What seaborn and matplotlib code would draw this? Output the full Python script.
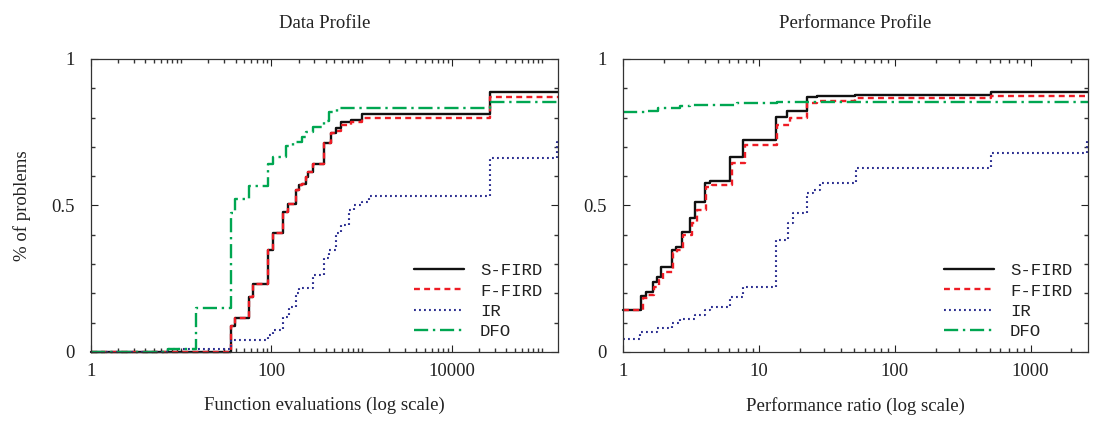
import matplotlib
matplotlib.use("Agg")
import matplotlib.pyplot as plt
import matplotlib.ticker as mticker
import seaborn as sns
import pandas as pd
import numpy as np

# ---- data profile (function evaluations) ----
dp_sfird_x = [1, 35.8, 39.7, 56.1, 63.2, 91, 105, 136, 152, 187, 204, 218, 242, 252, 286, 385, 456, 519, 589, 759, 1020, 26700, 150000]
dp_sfird_y = [0, 0.089, 0.117, 0.189, 0.231, 0.348, 0.407, 0.477, 0.504, 0.553, 0.570, 0.575, 0.598, 0.615, 0.640, 0.712, 0.747, 0.763, 0.786, 0.792, 0.812, 0.886, 0.886]
dp_ffird_x = [1, 35.8, 39.7, 56.1, 63.2, 91, 105, 136, 152, 187, 204, 218, 242, 252, 286, 385, 456, 519, 589, 759, 1020, 26700, 150000]
dp_ffird_y = [0, 0.089, 0.117, 0.189, 0.231, 0.348, 0.407, 0.477, 0.504, 0.553, 0.570, 0.575, 0.598, 0.615, 0.640, 0.712, 0.747, 0.755, 0.775, 0.786, 0.797, 0.869, 0.869]
dp_ir_x = [1, 7.1, 35.8, 91, 103, 136, 158, 187, 204, 286, 385, 437, 519, 589, 728, 826, 1020, 1210, 26700, 145000, 150000]
dp_ir_y = [0, 0.01, 0.041, 0.058, 0.075, 0.12, 0.155, 0.2, 0.217, 0.263, 0.32, 0.348, 0.405, 0.433, 0.485, 0.502, 0.513, 0.532, 0.661, 0.718, 0.718]
dp_dfo_x = [1, 7.1, 14.7, 35.8, 39.6, 56.1, 91, 103, 145, 172, 218, 242, 286, 385, 437, 540, 26700, 150000]
dp_dfo_y = [0, 0.01, 0.151, 0.473, 0.521, 0.567, 0.642, 0.667, 0.703, 0.718, 0.735, 0.752, 0.767, 0.79, 0.82, 0.834, 0.852, 0.852]

# ---- performance profile (performance ratio) ----
pp_sfird_x = [1, 1.36, 1.49, 1.65, 1.79, 1.90, 2.28, 2.45, 2.70, 3.11, 3.38, 4.01, 4.36, 6.12, 7.67, 13.3, 16.2, 22.7, 26.6, 50.8, 514, 2650]
pp_sfird_y = [0.143, 0.191, 0.206, 0.24, 0.257, 0.289, 0.348, 0.36, 0.411, 0.456, 0.513, 0.576, 0.585, 0.667, 0.724, 0.803, 0.824, 0.869, 0.874, 0.877, 0.886, 0.886]
pp_ffird_x = [1, 1.41, 1.53, 1.69, 1.84, 1.96, 2.32, 2.48, 2.78, 3.20, 3.48, 4.12, 4.49, 6.30, 7.89, 13.5, 16.9, 22.7, 26.6, 50.8, 514, 2650]
pp_ffird_y = [0.143, 0.183, 0.195, 0.223, 0.246, 0.274, 0.337, 0.348, 0.4, 0.439, 0.485, 0.564, 0.57, 0.644, 0.706, 0.775, 0.797, 0.851, 0.858, 0.866, 0.874, 0.874]
pp_ir_x = [1, 1.33, 1.77, 2.28, 2.62, 3.38, 4.01, 4.36, 6.12, 7.67, 13.3, 16.4, 17.9, 22.7, 25.1, 28.4, 52.3, 514, 2600, 2650]
pp_ir_y = [0.044, 0.069, 0.081, 0.098, 0.111, 0.126, 0.143, 0.155, 0.187, 0.223, 0.382, 0.439, 0.476, 0.542, 0.553, 0.576, 0.629, 0.680, 0.726, 0.726]
pp_dfo_x = [1, 1.49, 1.81, 2.62, 3.11, 6.86, 13.5, 2650]
pp_dfo_y = [0.818, 0.824, 0.832, 0.840, 0.843, 0.849, 0.852, 0.852]

solvers = ["S-FIRD", "F-FIRD", "IR", "DFO"]
colors = {"S-FIRD": "#111111", "F-FIRD": "#ee1c25", "IR": "#2e3192", "DFO": "#00a651"}
styles = {"S-FIRD": "-", "F-FIRD": (0, (2.5, 1.8)), "IR": (0, (0.9, 1.5)), "DFO": (0, (6, 2, 1, 2))}
widths = {"S-FIRD": 1.7, "F-FIRD": 1.7, "IR": 1.5, "DFO": 1.7}

dp = {"S-FIRD": (dp_sfird_x, dp_sfird_y), "F-FIRD": (dp_ffird_x, dp_ffird_y),
      "IR": (dp_ir_x, dp_ir_y), "DFO": (dp_dfo_x, dp_dfo_y)}
pp = {"S-FIRD": (pp_sfird_x, pp_sfird_y), "F-FIRD": (pp_ffird_x, pp_ffird_y),
      "IR": (pp_ir_x, pp_ir_y), "DFO": (pp_dfo_x, pp_dfo_y)}

sns.set_theme(style="ticks")
plt.rcParams["font.family"] = ["Liberation Serif", "DejaVu Serif"]
plt.rcParams.update({
    "xtick.direction": "in", "ytick.direction": "in",
    "xtick.top": True, "ytick.right": True,
    "xtick.major.size": 5, "ytick.major.size": 5,
    "xtick.minor.size": 3, "ytick.minor.size": 3,
    "xtick.major.width": 0.8, "ytick.major.width": 0.8,
    "axes.linewidth": 0.9, "axes.edgecolor": "#333333",
    "xtick.color": "#333333", "ytick.color": "#333333",
})

fig = plt.figure(figsize=(10.96, 4.28), dpi=100)
ax1 = fig.add_axes([0.0830, 0.1776, 0.4261, 0.6846])
ax2 = fig.add_axes([0.5684, 0.1776, 0.4243, 0.6846])


def draw_profile(ax, data, xmax, title, xlabel, major_base):
    for s in solvers:
        df = pd.DataFrame({"x": data[s][0], "y": data[s][1]})
        sns.lineplot(data=df, x="x", y="y", ax=ax, estimator=None, sort=False,
                     drawstyle="steps-post", color=colors[s], linestyle=styles[s],
                     linewidth=widths[s], label=s, clip_on=False)
    ax.set_xscale("log")
    ax.set_xlim(1, xmax)
    ax.set_ylim(0, 1)
    ax.xaxis.set_major_locator(mticker.LogLocator(base=major_base))
    ax.xaxis.set_major_formatter(mticker.FuncFormatter(lambda v, p: f"{v:g}" if v < 1e5 else ""))
    ax.xaxis.set_minor_locator(mticker.LogLocator(base=10, subs=np.arange(1, 10), numticks=50))
    ax.xaxis.set_minor_formatter(mticker.NullFormatter())
    ax.yaxis.set_major_locator(mticker.FixedLocator([0, 0.5, 1]))
    ax.yaxis.set_major_formatter(mticker.FuncFormatter(lambda v, p: f"{v:g}"))
    ax.yaxis.set_minor_locator(mticker.MultipleLocator(0.1))
    ax.tick_params(axis="both", which="major", labelsize=13.5, colors="#222222")
    ax.tick_params(axis="y", which="major", pad=12)
    ax.tick_params(axis="x", which="major", pad=8)
    ax.set_title(title, fontsize=13.5, pad=22, color="#222222")
    ax.set_xlabel(xlabel, fontsize=13.5, labelpad=12, color="#222222")
    ax.set_ylabel("")
    leg = ax.legend(loc="lower right", bbox_to_anchor=(1.0, -0.01), frameon=False,
                    prop={"family": "Liberation Mono", "size": 12.5},
                    handlelength=2.9, labelspacing=0.3, handletextpad=0.9)
    for t in leg.get_texts():
        t.set_color("#222222")


draw_profile(ax1, dp, 1.5e5, "Data Profile", "Function evaluations (log scale)", 100)
draw_profile(ax2, pp, 2650, "Performance Profile", "Performance ratio (log scale)", 10)
ax1.set_ylabel("% of problems", fontsize=13.5, labelpad=14, color="#222222")

fig.savefig("out.png", dpi=100)
